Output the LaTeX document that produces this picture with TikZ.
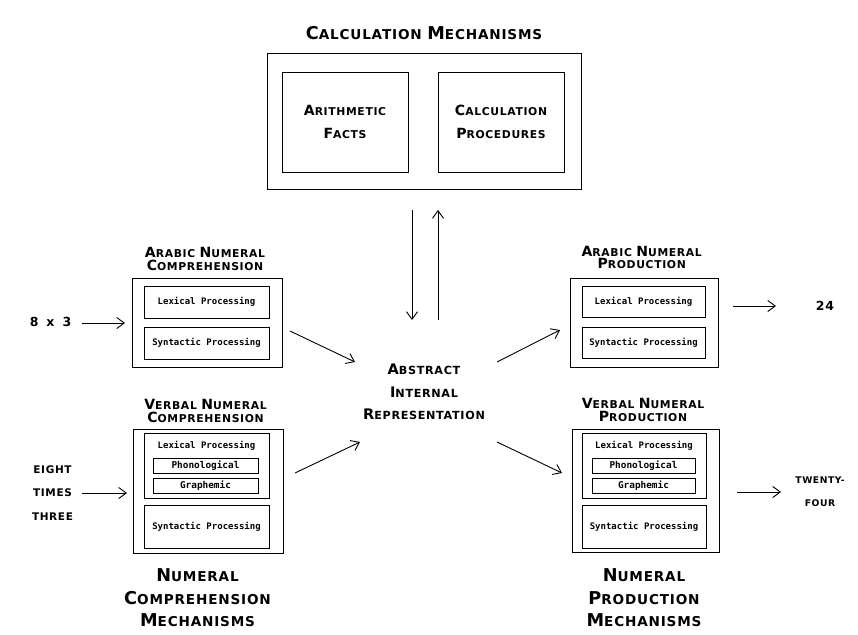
\documentclass[tikz,border=0pt]{standalone}
\usepackage{fontspec}
\usetikzlibrary{arrows.meta}
\newfontfamily\pf[LetterSpace=6]{DejaVu Sans}
\newfontfamily\ps{DejaVu Sans Mono}
\makeatletter
\newcommand\U[1]{{\fontsize{\fpeval{1.3*\f@size}}{0}\selectfont #1}}
\makeatother
\begin{document}
\begin{tikzpicture}[x=1pt,y=-1pt,
  box/.style={draw, line width=1pt, inner sep=0pt, outer sep=0pt},
  hd/.style={font=\pf\bfseries\fontsize{10.8}{12.5}\selectfont, align=center, inner sep=0pt},
  hdb/.style={font=\pf\bfseries\fontsize{10.8}{23}\selectfont, align=center, inner sep=0pt},
  ttl/.style={font=\pf\bfseries\fontsize{13.6}{22.5}\selectfont, align=center, inner sep=0pt},
  inp/.style={font=\pf\bfseries\fontsize{10.5}{23.5}\selectfont, align=center, inner sep=0pt},
  num/.style={font=\pf\bfseries\fontsize{12.5}{14}\selectfont, inner sep=0pt},
  sm/.style={font=\ps\bfseries\fontsize{9}{10}\selectfont},
  smb/.style={font=\ps\bfseries\fontsize{9.4}{10}\selectfont},
  arr/.style={-{Straight Barb[length=7.5pt,width=11pt]}, line width=0.9pt}
]
\useasboundingbox (0,0) rectangle (858,634);
\fill[white] (0,0) rectangle (858,634);

% calculation mechanisms
\node[ttl] (ctitle) at (424,33) {\U{C}ALCULATION \U{M}ECHANISMS};
\node[box, minimum width=314pt, minimum height=135pt] (calc) at (424,121.5) {};
\node[box, hdb, minimum width=126pt, minimum height=100pt] (af) at (345,122) {\U{A}RITHMETIC\\\U{F}ACTS};
\node[box, hdb, minimum width=126pt, minimum height=100pt] (cp) at (501,122) {\U{C}ALCULATION\\\U{P}ROCEDURES};

% abstract internal representation
\node[hd, font=\pf\bfseries\fontsize{11.2}{22.5}\selectfont] (air) at (424,392) {\U{A}BSTRACT\\\U{I}NTERNAL\\\U{R}EPRESENTATION};

% arabic numeral comprehension
\node[hd] (anct) at (205,259) {\U{A}RABIC \U{N}UMERAL\\\U{C}OMPREHENSION};
\node[box, minimum width=150pt, minimum height=89pt] (anc) at (207,322.5) {};
\node[box, sm, minimum width=125pt, minimum height=32pt] (ancl) at (206.5,302) {Lexical Processing};
\node[box, sm, minimum width=125pt, minimum height=32pt] (ancs) at (206.5,343) {Syntactic Processing};

% verbal numeral comprehension
\node[hd] (vnct) at (205.5,411) {\U{V}ERBAL \U{N}UMERAL\\\U{C}OMPREHENSION};
\node[box, minimum width=150pt, minimum height=124pt] (vnc) at (208,491) {};
\node[box, minimum width=125pt, minimum height=65pt] (vncl) at (206.5,465.5) {};
\node[sm] (vncll) at (206.5,446) {Lexical Processing};
\node[box, smb, minimum width=105pt, minimum height=15pt] (vncp) at (205.5,465.5) {Phonological};
\node[box, smb, minimum width=105pt, minimum height=15pt] (vncg) at (205.5,485.5) {Graphemic};
\node[box, sm, minimum width=125pt, minimum height=43pt] (vncs) at (206.5,526.5) {Syntactic Processing};
\node[ttl] (comp) at (197.5,598) {\U{N}UMERAL\\\U{C}OMPREHENSION\\\U{M}ECHANISMS};

% arabic numeral production
\node[hd] (anpt) at (641.7,257.5) {\U{A}RABIC \U{N}UMERAL\\\U{P}RODUCTION};
\node[box, minimum width=148pt, minimum height=89pt] (anp) at (644,322.5) {};
\node[box, sm, minimum width=123pt, minimum height=31pt] (anpl) at (643.5,301.5) {Lexical Processing};
\node[box, sm, minimum width=123pt, minimum height=31pt] (anps) at (643.5,342.5) {Syntactic Processing};

% verbal numeral production
\node[hd] (vnpt) at (643,410) {\U{V}ERBAL \U{N}UMERAL\\\U{P}RODUCTION};
\node[box, minimum width=147pt, minimum height=123pt] (vnp) at (645.5,490.5) {};
\node[box, minimum width=124pt, minimum height=65pt] (vnpl) at (644,465.5) {};
\node[sm] (vnpll) at (644,446) {Lexical Processing};
\node[box, smb, minimum width=103pt, minimum height=15pt] (vnpp) at (643.5,465.5) {Phonological};
\node[box, smb, minimum width=103pt, minimum height=15pt] (vnpg) at (643.5,485.5) {Graphemic};
\node[box, sm, minimum width=124pt, minimum height=43pt] (vnps) at (644,526.5) {Syntactic Processing};
\node[ttl] (prod) at (644,598) {\U{N}UMERAL\\\U{P}RODUCTION\\\U{M}ECHANISMS};

% inputs and outputs
\node[num] (in1) at (50.5,321.5) {8\hspace{8pt}x\hspace{8pt}3};
\node[inp] (in2) at (52.5,493) {EIGHT\\TIMES\\THREE};
\node[num] (out1) at (825,306) {24};
\node[inp, font=\pf\bfseries\fontsize{9.2}{23}\selectfont] (out2) at (820,491.5) {TWENTY-\\FOUR};

% connectors
\draw[arr] ([shift={(-12,21)}]calc.south) -- ([shift={(-12,-72)}]air.center);
\draw[arr] ([shift={(14,-72)}]air.center) -- ([shift={(14,21)}]calc.south);
\draw[arr] ([shift={(8,8.5)}]anc.east) -- ([shift={(-69,-30)}]air.center);
\draw[arr] ([shift={(12,-18)}]vnc.east) -- ([shift={(-64,50)}]air.center);
\draw[arr] ([shift={(73,-30)}]air.center) -- ([shift={(-10,7.5)}]anp.west);
\draw[arr] ([shift={(73,50)}]air.center) -- ([shift={(-10,-17.5)}]vnp.west);
\draw[arr] ([shift={(31.5,1.5)}]in1.center) -- ([shift={(-7,0.5)}]anc.west);
\draw[arr] ([shift={(29.5,0)}]in2.center) -- ([shift={(-6,2)}]vnc.west);
\draw[arr] ([shift={(15,-16.5)}]anp.east) -- ([shift={(-49,0)}]out1.center);
\draw[arr] ([shift={(18,1.5)}]vnp.east) -- ([shift={(-39,0.5)}]out2.center);
\end{tikzpicture}
\end{document}
